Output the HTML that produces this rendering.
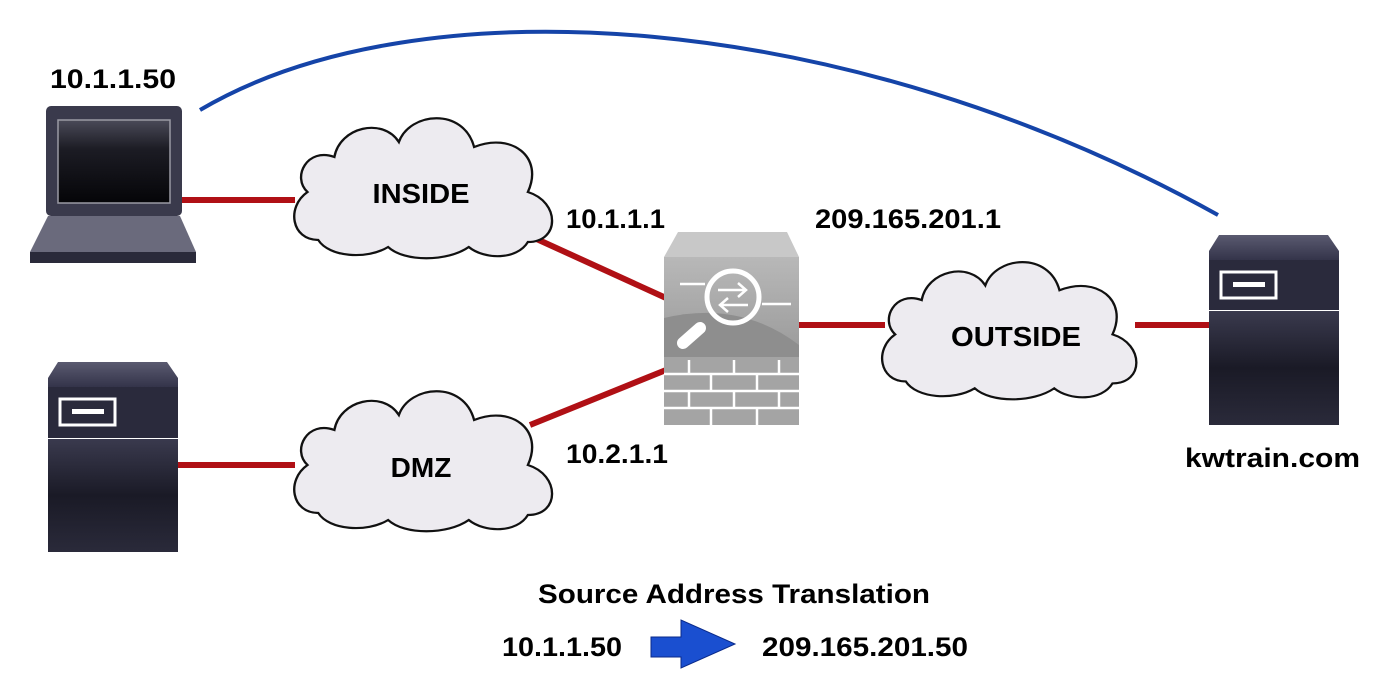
<!DOCTYPE html>
<html><head><meta charset="utf-8"><style>
html,body{margin:0;padding:0;background:#fff;}
svg{display:block;}
text{font-family:"Liberation Sans",Arial,sans-serif;font-weight:bold;fill:#000;}
</style></head><body>
<svg width="1388" height="682" viewBox="0 0 1388 682" xmlns="http://www.w3.org/2000/svg">
<defs>
<linearGradient id="dark" x1="0" y1="0" x2="0" y2="1">
<stop offset="0" stop-color="#3a3a4e"/><stop offset="0.5" stop-color="#1a1a26"/><stop offset="1" stop-color="#2a2a3a"/></linearGradient>
<linearGradient id="cap" x1="0" y1="0" x2="0" y2="1">
<stop offset="0" stop-color="#5a5a70"/><stop offset="1" stop-color="#34344a"/></linearGradient>
<linearGradient id="scr" x1="0" y1="0" x2="0" y2="1">
<stop offset="0" stop-color="#4a4a58"/><stop offset="0.35" stop-color="#1c1c24"/><stop offset="1" stop-color="#050508"/></linearGradient>
<linearGradient id="fw" x1="0" y1="0" x2="0" y2="1">
<stop offset="0" stop-color="#b8b8b8"/><stop offset="1" stop-color="#9a9a9a"/></linearGradient>
<path id="cloud" d="M30,128 C5,128 0,95 20,80 C5,65 20,35 45,45 C50,15 90,5 105,30 C115,0 165,-5 175,35 C210,20 240,45 225,80 C255,90 255,130 225,130 C215,148 185,148 170,135 C150,150 110,150 95,135 C75,148 40,145 30,128 Z"/>
</defs>

<path d="M200,110 C420,-20 850,10 1218,215" fill="none" stroke="#1544a8" stroke-width="4"/>

<g stroke="#b01015" stroke-width="6" fill="none">
<line x1="182" y1="200" x2="295" y2="200"/>
<line x1="530" y1="236" x2="666" y2="298"/>
<line x1="530" y1="425" x2="666" y2="370"/>
<line x1="798" y1="325" x2="885" y2="325"/>
<line x1="1135" y1="325" x2="1212" y2="325"/>
<line x1="176" y1="465" x2="295" y2="465"/>
</g>

<g fill="#edebf0" stroke="#111" stroke-width="2.2">
<use href="#cloud" transform="translate(286,112) scale(1.075,1.0)"/>
<use href="#cloud" transform="translate(286,385) scale(1.075,1.0)"/>
<use href="#cloud" transform="translate(874,256) scale(1.06,0.98)"/>
</g>
<text x="421" y="203" font-size="28" text-anchor="middle" textLength="97" lengthAdjust="spacingAndGlyphs">INSIDE</text>
<text x="421" y="477" font-size="28" text-anchor="middle">DMZ</text>
<text x="1016" y="346" font-size="28" text-anchor="middle" textLength="130" lengthAdjust="spacingAndGlyphs">OUTSIDE</text>

<rect x="46" y="106" width="136" height="110" rx="5" fill="#3a3a4c"/>
<rect x="58" y="120" width="112" height="83" fill="url(#scr)" stroke="#9a9aa4" stroke-width="1.5"/>
<path d="M48,216 L180,216 L196,252 L196,262 L30,262 L30,252 Z" fill="#6a6a7c"/>
<rect x="30" y="252" width="166" height="11" fill="#2a2a3a"/>

<path d="M58,362 L167,362 L178,378 L178,387 L48,387 L48,378 Z" fill="url(#cap)"/>
<rect x="48" y="387" width="130" height="51" fill="#2a2a3c"/>
<rect x="60" y="399" width="55" height="26" fill="none" stroke="#fff" stroke-width="3"/>
<rect x="72" y="409" width="32" height="5" fill="#fff"/>
<rect x="48" y="439" width="130" height="113" fill="url(#dark)"/>

<path d="M1219,235 L1328,235 L1339,251 L1339,260 L1209,260 L1209,251 Z" fill="url(#cap)"/>
<rect x="1209" y="260" width="130" height="50" fill="#2a2a3c"/>
<rect x="1221" y="272" width="55" height="26" fill="none" stroke="#fff" stroke-width="3"/>
<rect x="1233" y="282" width="32" height="5" fill="#fff"/>
<rect x="1209" y="311" width="130" height="114" fill="url(#dark)"/>

<path d="M678,232 L787,232 L799,257 L664,257 Z" fill="#c8c8c8"/>
<rect x="664" y="257" width="135" height="100" fill="url(#fw)"/>
<path d="M664,318 Q740,300 799,345 L799,357 L664,357 Z" fill="#8e8e8e"/>
<rect x="664" y="357" width="135" height="68" fill="#a4a4a4"/>
<g stroke="#fff" stroke-width="2.5" fill="none">
<line x1="664" y1="374" x2="799" y2="374"/><line x1="664" y1="391" x2="799" y2="391"/><line x1="664" y1="408" x2="799" y2="408"/>
<line x1="689" y1="360" x2="689" y2="374"/><line x1="734" y1="360" x2="734" y2="374"/><line x1="779" y1="360" x2="779" y2="374"/>
<line x1="711" y1="374" x2="711" y2="391"/><line x1="757" y1="374" x2="757" y2="391"/>
<line x1="689" y1="391" x2="689" y2="408"/><line x1="734" y1="391" x2="734" y2="408"/><line x1="779" y1="391" x2="779" y2="408"/>
<line x1="711" y1="408" x2="711" y2="425"/><line x1="757" y1="408" x2="757" y2="425"/>
<circle cx="733" cy="297" r="26" stroke-width="5"/>
<line x1="680" y1="284" x2="705" y2="284"/><line x1="762" y1="304" x2="791" y2="304"/>
<path d="M718,290 L746,290 M738,283 L746,290 L738,297"/>
<path d="M748,305 L720,305 M728,298 L720,305 L728,312"/>
</g>
<line x1="683" y1="343" x2="700" y2="328" stroke="#fff" stroke-width="12" stroke-linecap="round"/>

<text x="50" y="88" font-size="27" textLength="126" lengthAdjust="spacingAndGlyphs">10.1.1.50</text>
<text x="566" y="228" font-size="27" textLength="99" lengthAdjust="spacingAndGlyphs">10.1.1.1</text>
<text x="815" y="228" font-size="27" textLength="186" lengthAdjust="spacingAndGlyphs">209.165.201.1</text>
<text x="566" y="463" font-size="27" textLength="102" lengthAdjust="spacingAndGlyphs">10.2.1.1</text>
<text x="1185" y="467" font-size="27" textLength="175" lengthAdjust="spacingAndGlyphs">kwtrain.com</text>
<text x="538" y="603" font-size="27" textLength="392" lengthAdjust="spacingAndGlyphs">Source Address Translation</text>
<text x="502" y="656" font-size="27" textLength="120" lengthAdjust="spacingAndGlyphs">10.1.1.50</text>
<text x="762" y="656" font-size="27" textLength="206" lengthAdjust="spacingAndGlyphs">209.165.201.50</text>
<path d="M651,637 L681,637 L681,620 L735,644 L681,668 L681,657 L651,657 Z" fill="#1a4fd0" stroke="#0a2a8a" stroke-width="1"/>
</svg>
</body></html>
